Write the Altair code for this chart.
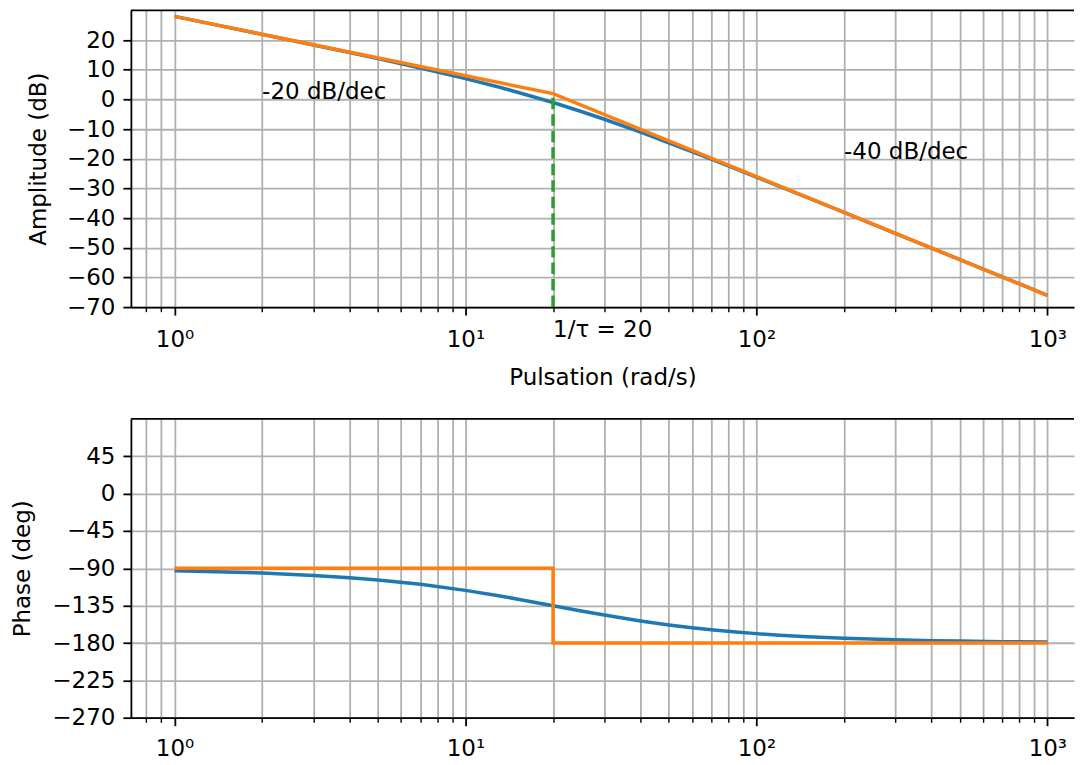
import altair as alt
import pandas as pd

# ---------------- data ----------------
omega = [1, 1.5, 2, 3, 4, 5, 7, 10, 13, 15, 20, 25, 30, 40, 50, 60, 70, 85,
         100, 120, 150, 200, 300, 400, 500, 700, 1000]
mag_db = [27.96, 24.44, 21.90, 18.32, 15.78, 13.72, 10.55, 6.99, 4.15, 2.50,
          -1.07, -4.09, -6.70, -11.07, -14.62, -17.60, -20.16, -23.43,
          -26.19, -29.30, -33.14, -38.10, -45.13, -50.11, -53.99, -59.83, -66.02]
phase_deg = [-92.86, -94.29, -95.71, -98.53, -101.31, -104.04, -109.29, -116.57,
             -123.02, -126.87, -135.00, -141.34, -146.31, -153.43, -158.20,
             -161.57, -164.05, -166.76, -168.69, -170.54, -172.41, -174.29,
             -176.19, -177.14, -177.71, -178.36, -178.85]

asym_mag_omega = [1, 20, 1000]
asym_mag = [27.96, 1.94, -66.02]
asym_ph_omega = [1, 20, 20, 1000]
asym_ph = [-90, -90, -180, -180]

corner_omega = [20]
corner_low = [-70]
corner_high = [1.94]

text_omega = [2, 200, 20]
text_val = [0, -20, -80]
text_label = ["-20 dB/dec", "-40 dB/dec", "1/τ = 20"]

x_ticks = [0.8, 0.9, 1, 2, 3, 4, 5, 6, 7, 8, 9, 10, 20, 30, 40, 50, 60, 70, 80, 90,
           100, 200, 300, 400, 500, 600, 700, 800, 900, 1000]
mag_ticks = [-70, -60, -50, -40, -30, -20, -10, 0, 10, 20]
ph_ticks = [-270, -225, -180, -135, -90, -45, 0, 45]
mag_range = [-70, 30]
ph_range = [-270, 90]

# ---------------- tables ----------------
df_mag = pd.DataFrame({"omega": omega, "val": mag_db})
df_ph = pd.DataFrame({"omega": omega, "val": phase_deg})
df_amag = pd.DataFrame({"omega": asym_mag_omega, "val": asym_mag, "idx": range(len(asym_mag))})
df_aph = pd.DataFrame({"omega": asym_ph_omega, "val": asym_ph, "idx": range(len(asym_ph))})
df_corner = pd.DataFrame({"omega": corner_omega, "val": corner_low, "val2": corner_high})
df_text = pd.DataFrame({"omega": text_omega, "val": text_val, "label": text_label})
df_top_mag = pd.DataFrame({"val": [mag_range[1]]})
df_top_ph = pd.DataFrame({"val": [ph_range[1]]})

FONT = "DejaVu Sans"
FS = 23
BLUE, ORANGE, GREEN = "#1f77b4", "#ff7f0e", "#2ca02c"
LW = 3.5
SPINE = 1.8

major_test = "datum.value == 1 || datum.value == 10 || datum.value == 100 || datum.value == 1000"
label_expr = ("datum.value == 1 ? '10⁰' : datum.value == 10 ? '10¹' : "
              "datum.value == 100 ? '10²' : datum.value == 1000 ? '10³' : ''")

PLOT_W = 944
x_scale = alt.Scale(type="log", domain=[10 ** -0.15, 10 ** 3.0916], nice=False)


def x_enc(title, pad):
    kw = dict(
        values=x_ticks, labelExpr=label_expr, grid=True,
        tickSize={"condition": {"test": major_test, "value": 8}, "value": 4.6},
        tickWidth={"condition": {"test": major_test, "value": 1.8}, "value": 1.4},
        labelPadding=pad, labelFlush=False,
    )
    if title:
        kw["title"] = title
        kw["titlePadding"] = 16
    else:
        kw["title"] = None
    return alt.X("omega:Q", scale=x_scale, axis=alt.Axis(**kw))


def y_enc(domain, ticks, title, tpad):
    return alt.Y("val:Q", scale=alt.Scale(domain=domain, nice=False, zero=False),
                 axis=alt.Axis(values=ticks, title=title, tickSize=8, tickWidth=1.8,
                               labelPadding=8, titlePadding=tpad, grid=True))


X_top = x_enc("Pulsation (rad/s)", 13)
Y_top = y_enc(mag_range, mag_ticks, "Amplitude (dB)", 16)
X_bot = x_enc(None, 12)
Y_bot = y_enc(ph_range, ph_ticks, "Phase (deg)", 17)

top = alt.layer(
    alt.Chart(df_top_mag).mark_rule(color="black", strokeWidth=SPINE).encode(y=Y_top),
    alt.Chart(df_mag).mark_line(color=BLUE, strokeWidth=LW).encode(x=X_top, y=Y_top),
    alt.Chart(df_amag).mark_line(color=ORANGE, strokeWidth=LW).encode(
        x=X_top, y=Y_top, order="idx:Q"),
    alt.Chart(df_corner).mark_rule(color=GREEN, strokeWidth=LW, strokeDash=[11.5, 5]).encode(
        x=X_top, y=Y_top, y2="val2:Q"),
    alt.Chart(df_text).mark_text(align="left", baseline="alphabetic", font=FONT,
                                 fontSize=FS, color="black").encode(
        x=X_top, y=Y_top, text="label:N"),
).properties(width=PLOT_W, height=297)

bottom = alt.layer(
    alt.Chart(df_top_ph).mark_rule(color="black", strokeWidth=SPINE).encode(y=Y_bot),
    alt.Chart(df_ph).mark_line(color=BLUE, strokeWidth=LW).encode(x=X_bot, y=Y_bot),
    alt.Chart(df_aph).mark_line(color=ORANGE, strokeWidth=LW).encode(
        x=X_bot, y=Y_bot, order="idx:Q"),
).properties(width=PLOT_W, height=299)

chart = alt.vconcat(top, bottom, spacing=28).properties(
    padding={"left": 3, "top": 1, "right": 0, "bottom": 0},
).configure_view(
    strokeWidth=0
).configure_axis(
    labelFont=FONT, labelFontSize=FS, labelColor="black",
    titleFont=FONT, titleFontSize=FS, titleColor="black", titleFontWeight="normal",
    domainColor="black", domainWidth=SPINE, tickColor="black",
    gridColor="#b0b0b0", gridWidth=1.8, gridOpacity=1,
)

chart.save("out.html", embed_options={"renderer": "svg", "actions": False})
